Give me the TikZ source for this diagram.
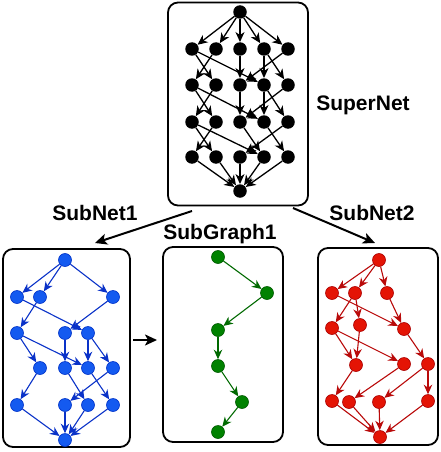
\documentclass[tikz,border=0pt]{standalone}
\usepackage{fontspec}
\setmainfont{Liberation Sans}
\usetikzlibrary{arrows.meta}
\definecolor{bfill}{RGB}{20,90,240}
\definecolor{bdraw}{RGB}{0,50,200}
\definecolor{bedge}{RGB}{10,50,200}
\definecolor{rfill}{RGB}{228,20,5}
\definecolor{rdraw}{RGB}{170,0,0}
\definecolor{redge}{RGB}{185,10,10}
\definecolor{gfill}{RGB}{0,130,0}
\definecolor{gdraw}{RGB}{0,90,0}
\definecolor{gedge}{RGB}{0,105,0}
\begin{document}
\begin{tikzpicture}[x=1pt,y=-1pt,
  knode/.style={circle,fill=black,inner sep=0pt,minimum size=13.5pt},
  bnode/.style={circle,fill=bfill,draw=bdraw,line width=0.6pt,inner sep=0pt,minimum size=13pt},
  rnode/.style={circle,fill=rfill,draw=rdraw,line width=0.6pt,inner sep=0pt,minimum size=13pt},
  gnode/.style={circle,fill=gfill,draw=gdraw,line width=0.6pt,inner sep=0pt,minimum size=13pt},
  kedge/.style={draw=black,line width=1.3pt,-{Stealth[length=10pt,width=9pt,inset=3pt]}},
  bedgest/.style={draw=bedge,line width=1.1pt,-{Stealth[length=9.5pt,width=8.5pt,inset=3pt]}},
  redgest/.style={draw=redge,line width=1.1pt,-{Stealth[length=9.5pt,width=8.5pt,inset=3pt]}},
  gedgest/.style={draw=gedge,line width=1.1pt,-{Stealth[length=9.5pt,width=8.5pt,inset=3pt]}},
  boxst/.style={draw=black,line width=1.8pt,rounded corners=10pt,inner sep=0pt},
  bigarrow/.style={draw=black,line width=2pt,-{Stealth[length=12pt,width=11pt,inset=3pt]}},
  lab/.style={font=\bfseries\fontsize{21}{24}\selectfont,inner sep=0pt}
]
\useasboundingbox (0,0) rectangle (440,452);

% boxes
\node[boxst,minimum width=140pt,minimum height=203pt] (super) at (238,104) {};
\node[boxst,minimum width=127pt,minimum height=198pt] (sub1) at (66.5,348) {};
\node[boxst,minimum width=120pt,minimum height=195pt] (subg) at (223,344.5) {};
\node[boxst,minimum width=120pt,minimum height=197pt] (sub2) at (378,346.5) {};

% labels
\node[lab] (lsuper) at (363,105) {SuperNet};
\node[lab] (lsub1) at (95,213) {SubNet1};
\node[lab] (lsubg) at (220,234) {SubGraph1};
\node[lab] (lsub2) at (372,213) {SubNet2};

% big arrows
\coordinate (s1) at (192,211);
\coordinate (t1) at (95,243);
\coordinate (s2) at (293,208);
\coordinate (t2) at (375,243);
\coordinate (s3) at (133,340);
\coordinate (t3) at (157,340);
\draw[bigarrow] (s1) -- (t1);
\draw[bigarrow] (s2) -- (t2);
\draw[bigarrow] (s3) -- (t3);

% SuperNet nodes
\node[knode] (S0) at (240,12) {};
\foreach \r/\y in {1/49,2/85,3/122,4/157}{
  \foreach \c/\x in {1/192,2/216,3/240,4/264,5/288}{
    \node[knode] (S\r\c) at (\x,\y) {};
  }
}
\node[knode] (S5) at (240,191) {};
\foreach \c in {1,...,5}{ \draw[kedge] (S0) -- (S1\c); }
\foreach \a/\b in {1/2,2/3}{
  \draw[kedge] (S\a1) -- (S\b2);
  \draw[kedge] (S\a1) -- (S\b4);
  \draw[kedge] (S\a2) -- (S\b1);
  \draw[kedge] (S\a3) -- (S\b3);
  \draw[kedge] (S\a4) -- (S\b4);
  \draw[kedge] (S\a4) -- (S\b5);
  \draw[kedge] (S\a5) -- (S\b3);
}
\draw[kedge] (S31) -- (S42);
\draw[kedge] (S31) -- (S44);
\draw[kedge] (S32) -- (S41);
\draw[kedge] (S33) -- (S44);
\draw[kedge] (S34) -- (S45);
\draw[kedge] (S35) -- (S43);
\foreach \c in {1,...,5}{ \draw[kedge] (S4\c) -- (S5); }

% SubNet1 (blue)
\node[bnode] (B0) at (65,260) {};
\node[bnode] (B11) at (17,297) {};
\node[bnode] (B12) at (40,297) {};
\node[bnode] (B13) at (113,297) {};
\node[bnode] (B21) at (17,333) {};
\node[bnode] (B22) at (65,333) {};
\node[bnode] (B23) at (88,333) {};
\node[bnode] (B31) at (40,368) {};
\node[bnode] (B32) at (65,368) {};
\node[bnode] (B33) at (88,368) {};
\node[bnode] (B34) at (113,368) {};
\node[bnode] (B41) at (17,405) {};
\node[bnode] (B42) at (65,405) {};
\node[bnode] (B43) at (88,405) {};
\node[bnode] (B44) at (113,405) {};
\node[bnode] (B5) at (65,440) {};
\foreach \a/\b in {0/11,0/12,0/13,11/23,12/21,13/22,21/31,21/33,22/32,23/33,23/34,31/41,32/43,33/44,34/42,41/5,42/5,43/5,44/5}{
  \draw[bedgest] (B\a) -- (B\b);
}

% SubGraph1 (green)
\node[gnode] (G1) at (218,257) {};
\node[gnode] (G2) at (267,293) {};
\node[gnode] (G3) at (218,330) {};
\node[gnode] (G4) at (218,366) {};
\node[gnode] (G5) at (242,402) {};
\node[gnode] (G6) at (218,432) {};
\foreach \a/\b in {1/2,2/3,3/4,4/5,5/6}{
  \draw[gedgest] (G\a) -- (G\b);
}

% SubNet2 (red)
\node[rnode] (R0) at (379,260) {};
\node[rnode] (R11) at (332,293) {};
\node[rnode] (R12) at (355,293) {};
\node[rnode] (R13) at (387,293) {};
\node[rnode] (R21) at (332,328) {};
\node[rnode] (R22) at (360,325) {};
\node[rnode] (R23) at (404,329) {};
\node[rnode] (R31) at (356,365) {};
\node[rnode] (R32) at (404,364) {};
\node[rnode] (R33) at (428,364) {};
\node[rnode] (R41) at (332,401) {};
\node[rnode] (R42) at (349,402) {};
\node[rnode] (R43) at (379,402) {};
\node[rnode] (R44) at (428,401) {};
\node[rnode] (R5) at (380,437) {};
\foreach \a/\b in {0/11,0/12,0/13,11/23,12/21,12/22,13/23,21/31,21/32,22/31,23/33,31/41,32/42,33/43,33/44,41/5,42/5,43/5,44/5}{
  \draw[redgest] (R\a) -- (R\b);
}
\end{tikzpicture}
\end{document}
